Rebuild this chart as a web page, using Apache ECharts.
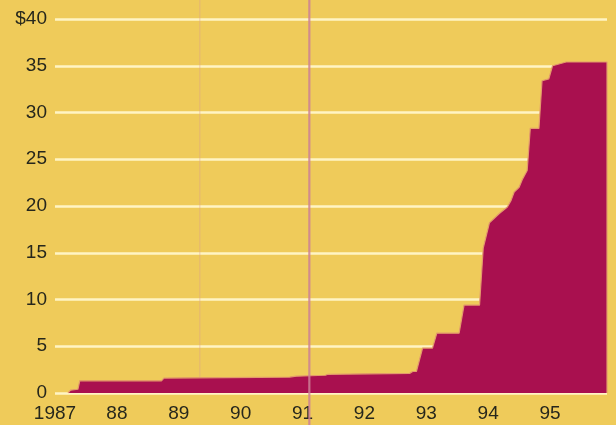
<!DOCTYPE html>
<html>
<head>
<meta charset="utf-8">
<script src="https://cdn.jsdelivr.net/npm/echarts@6/dist/echarts.min.js"></script>
<style>
  html, body { margin: 0; padding: 0; background: #EFCB5A; }
  #chart { width: 616px; height: 425px; }
</style>
</head>
<body>
<div id="chart"></div>
<script>
// Time (decimal years) and price in dollars, traced as a stepped series
const times = [
  1987.21, 1987.25, 1987.37, 1987.40, 1988.72, 1988.76, 1990.79, 1990.90,
  1991.37, 1991.41, 1992.73, 1992.78, 1992.84, 1992.94, 1993.10, 1993.17,
  1993.53, 1993.61, 1993.86, 1993.92, 1994.02, 1994.18, 1994.31, 1994.37,
  1994.42, 1994.50, 1994.55, 1994.63, 1994.68, 1994.82, 1994.87, 1994.98,
  1995.04, 1995.26, 1995.92, 1995.92
];
const prices = [
  0, 0.3, 0.4, 1.3, 1.3, 1.6, 1.7, 1.8,
  1.9, 2.0, 2.1, 2.3, 2.3, 4.8, 4.8, 6.4,
  6.4, 9.4, 9.4, 15.5, 18.2, 19.2, 19.9, 20.6,
  21.5, 22.0, 22.8, 23.8, 28.3, 28.3, 33.4, 33.6,
  35.0, 35.4, 35.4, 0
];
const yTicks = [0, 5, 10, 15, 20, 25, 30, 35, 40];
const firstYear = 1987;
const lastTime = 1995.92;
// Reference markers drawn across the full height
const markerTimes = [1991.11];
const faintMarkerTimes = [1989.34];

const ink = '#26271C';
const chart = echarts.init(document.getElementById('chart'), null, { renderer: 'canvas' });

chart.setOption({
  backgroundColor: '#EFCB5A',
  animation: false,
  grid: { left: 55, right: 9, top: 19, bottom: 32, containLabel: false },
  xAxis: {
    type: 'value',
    min: firstYear,
    max: lastTime,
    interval: 1,
    axisLine: { show: false },
    axisTick: { show: false },
    splitLine: { show: false },
    axisLabel: {
      showMaxLabel: false,
      margin: 11,
      color: ink,
      fontFamily: 'Liberation Sans, Arial, sans-serif',
      fontSize: 19,
      formatter: v => v === firstYear ? String(v) : String(v).slice(2)
    }
  },
  yAxis: {
    type: 'value',
    min: yTicks[0],
    max: yTicks[yTicks.length - 1],
    interval: 5,
    axisLine: { show: false },
    axisTick: { show: false },
    splitLine: { show: true, lineStyle: { color: '#FFF4C4', width: 2.5 } },
    axisLabel: {
      margin: 8,
      color: ink,
      fontFamily: 'Liberation Sans, Arial, sans-serif',
      fontSize: 19,
      formatter: v => v === yTicks[yTicks.length - 1] ? '$' + v : String(v)
    }
  },
  series: [{
    type: 'line',
    data: times.map((t, i) => [t, prices[i]]),
    showSymbol: false,
    symbol: 'none',
    lineStyle: { color: '#E39A6C', width: 1.2 },
    areaStyle: { color: '#A9104F', opacity: 1 },
    z: 3
  }]
});

// Vertical marker lines spanning the whole picture height
const h = 425;
const graphics = [];
markerTimes.forEach(t => {
  const x = chart.convertToPixel({ xAxisIndex: 0 }, t);
  graphics.push({
    type: 'line', z: 100,
    shape: { x1: x, y1: 0, x2: x, y2: h },
    style: { stroke: 'rgba(204,128,150,0.85)', lineWidth: 2.2 }
  });
});
faintMarkerTimes.forEach(t => {
  const x = chart.convertToPixel({ xAxisIndex: 0 }, t);
  graphics.push({
    type: 'line', z: 1,
    shape: { x1: x, y1: 0, x2: x, y2: 385 },
    style: { stroke: 'rgba(220,160,140,0.35)', lineWidth: 1.5 }
  });
});
chart.setOption({ graphic: graphics });
</script>
</body>
</html>
